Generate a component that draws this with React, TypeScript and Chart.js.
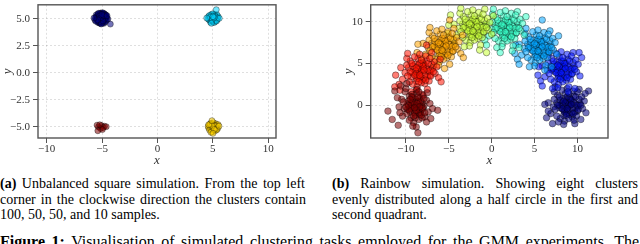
import { useEffect, useRef } from "react";
import { Chart, registerables } from "chart.js";
Chart.register(...registerables);

// ---------- tick values / labels ----------
const squareXTicks = [-10, -5, 0, 5, 10];
const squareXLabels = ["\u221210", "\u22125", "0", "5", "10"];
const squareYTicks = [-5, -2.5, 0, 2.5, 5];
const squareYLabels = ["\u22125.0", "\u22122.5", "0.0", "2.5", "5.0"];
const rainbowXTicks = [-10, -5, 0, 5, 10];
const rainbowXLabels = ["\u221210", "\u22125", "0", "5", "10"];
const rainbowYTicks = [0, 5, 10];
const rainbowYLabels = ["0", "5", "10"];

// ---------- (a) unbalanced square ----------
const squareTopLeft: [number, number][] = [
  [-5.03,5.07],[-4.87,4.83],[-5.25,5.17],[-4.82,5.29],[-5.15,4.9],[-5.35,4.96],[-4.93,5.43],[-5.1,4.66],[-4.69,5.03],[-5.43,5.25],
  [-5.2,5.38],[-4.99,4.97],[-4.78,4.78],[-5.31,4.73],[-5.06,5.22],[-4.89,5.13],[-5.5,4.93],[-4.62,5.2],[-5.13,5.53],[-5.22,4.59],
  [-4.83,4.57],[-5.38,5.43],[-4.94,5.31],[-5.04,4.82],[-5.27,5.01],[-4.73,5.38],[-5.17,4.79],[-4.57,4.9],[-5.59,5.11],[-5.08,5.15],
  [-4.9,4.71],[-5.32,5.27],[-4.79,5.1],[-5.01,5.48],[-5.18,4.94],[-4.96,4.89],[-5.41,4.8],[-4.66,5.25],[-5.11,4.55],[-4.86,5.2],
  [-5.28,5.34],[-5.07,4.99],[-4.75,4.93],[-5.46,5.03],[-4.97,5.1],[-5.21,5.46],[-4.85,5.5],[-5.14,4.71],[-4.61,5.08],[-5.36,4.64],
  [-5.0,4.86],[-4.92,5.04],[-5.24,5.13],[-5.53,5.35],[-4.72,4.85],[-5.06,5.35],[-4.8,5.17],[-5.29,4.86],[-4.93,4.61],[-5.17,5.28],
  [-5.42,4.99],[-4.87,5.38],[-5.1,5.0],[-4.68,4.72],[-5.34,5.14],[-4.99,5.18],[-5.15,4.75],[-4.78,5.43],[-5.63,4.86],[-5.03,4.93],
  [-4.96,5.56],[-5.25,4.83],[-4.82,4.99],[-5.13,5.41],[-5.48,5.18],[-4.65,5.35],[-5.2,5.06],[-4.9,5.25],[-5.08,4.76],[-5.38,5.08],
  [-4.76,5.07],[-5.01,5.27],[-5.28,4.69],[-4.86,4.9],[-5.18,5.2],[-5.55,4.76],[-4.94,5.01],[-5.07,4.51],[-4.71,5.14],[-5.32,5.5],
  [-4.47,4.97],[-5.22,5.24],[-4.92,4.8],[-5.11,5.1],[-4.83,5.27],[-5.39,4.89],[-5.0,5.39],[-4.55,5.28],[-5.73,5.07],[-4.25,4.5]
];
const squareTopRight: [number, number][] = [
  [5.02,5.08],[4.81,4.92],[5.21,5.15],[4.95,5.32],[5.14,4.84],[4.72,5.12],[5.35,5.03],[5.08,4.71],[4.88,5.22],[5.27,5.27],
  [4.99,4.96],[5.16,5.41],[4.67,4.89],[5.41,4.92],[4.91,5.05],[5.09,5.19],[4.79,4.68],[5.3,5.14],[5.04,4.87],[4.85,5.38],
  [5.19,4.97],[4.62,5.21],[5.47,5.2],[4.96,4.78],[5.12,5.06],[4.75,5.01],[5.23,4.75],[4.93,5.14],[5.37,5.36],[5.05,5.29],
  [4.83,4.82],[5.15,4.93],[4.58,4.98],[5.29,4.88],[4.98,5.45],[5.11,4.64],[4.69,5.29],[5.42,5.09],[4.89,4.97],[5.2,5.23],
  [5.06,5.02],[4.77,5.16],[5.33,4.79],[4.94,4.88],[5.58,5.04],[4.86,4.58],[5.13,5.12],[4.45,5.06],[5.01,5.19],[5.31,5.84]
];
const squareBottomRight: [number, number][] = [
  [5.03,-4.97],[4.86,-5.12],[5.19,-4.86],[4.92,-4.78],[5.14,-5.21],[4.74,-5.02],[5.31,-5.08],[5.07,-5.33],[4.89,-4.93],[5.25,-4.72],
  [4.97,-5.19],[5.12,-4.91],[4.69,-4.87],[5.38,-4.96],[4.94,-5.41],[5.06,-5.04],[4.81,-5.27],[5.27,-5.24],[5.0,-4.84],[4.84,-4.67],
  [5.17,-5.1],[4.63,-5.13],[5.44,-5.17],[4.95,-5.02],[5.1,-4.79],[4.77,-4.94],[5.22,-5.36],[4.91,-5.23],[5.35,-4.85],[5.04,-4.63],
  [4.8,-5.07],[5.16,-5.01],[4.58,-4.98],[5.29,-5.12],[4.99,-5.48],[5.09,-4.89],[4.71,-5.31],[5.47,-4.81],[4.87,-4.99],[5.21,-4.93],
  [5.05,-5.15],[4.75,-4.76],[5.34,-5.3],[4.93,-4.9],[5.55,-4.95],[4.83,-5.52],[5.13,-5.26],[4.62,-4.82],[5.01,-5.62],[4.92,-4.45]
];
const squareBottomLeft: [number, number][] = [
  [-5.05,-4.9],[-5.32,-5.02],[-4.78,-4.96],[-5.14,-5.18],[-4.9,-5.08],[-5.45,-4.86],[-4.62,-5.0],[-5.21,-4.82],[-4.97,-5.27],[-5.38,-5.38]
];
const squareColors = ["0,0,128", "0,212,255", "255,212,0", "128,0,0"];

// ---------- (b) rainbow ----------
const rainbowDarkRed: [number, number][] = [
  [-9.1,-0.3],[-8.6,0.4],[-9.5,-0.8],[-8.2,-0.6],[-9.8,0.2],[-8.9,-1.2],[-8.4,0.9],[-9.3,0.6],[-10.2,-0.4],[-7.9,-0.1],
  [-8.7,-0.5],[-9.6,1.1],[-8.1,0.3],[-9.0,0.1],[-10.5,0.7],[-8.5,-1.7],[-7.6,0.6],[-9.4,-1.5],[-8.8,1.4],[-9.9,-1.0],
  [-8.3,-0.9],[-9.2,-0.1],[-10.8,-0.2],[-7.4,-0.8],[-8.0,1.2],[-9.7,0.5],[-8.6,-0.2],[-9.1,-2.1],[-10.1,1.6],[-7.8,-1.4],
  [-8.9,0.7],[-9.4,0.2],[-8.4,-1.1],[-10.4,-1.3],[-7.2,0.2],[-9.0,-0.7],[-8.7,1.9],[-9.8,-0.5],[-8.2,0.0],[-11.0,0.9],
  [-7.6,-2.0],[-9.3,1.3],[-8.5,0.5],[-9.6,-1.8],[-10.7,-0.9],[-6.9,-0.4],[-8.1,-1.5],[-9.2,0.9],[-8.8,-2.6],[-10.0,2.0],
  [-7.5,1.5],[-9.5,-0.2],[-11.6,-1.7],[-8.0,-0.3],[-12.1,-0.7],[-6.3,-0.6],[-8.6,-3.3],[-10.9,-2.4],[-7.1,-1.6],[-9.9,2.6],
  [-11.3,1.7],[-10.6,2.3],
  [-8.8,-0.1],[-9.2,0.3],[-8.5,-0.9],[-9.4,-0.4],[-8.3,0.5],[-9.0,-0.9],[-8.7,0.2],[-9.6,-0.6],[-8.1,-0.4],[-9.3,1.0],
  [-8.9,-1.5],[-8.4,-0.2],[-9.7,0.0],[-8.6,1.0],[-9.1,-1.3],[-7.9,0.8],[-10.0,-0.2],[-8.2,-1.2],[-9.5,0.7],[-8.8,-0.6],
  [-9.2,-2.5],[-7.8,-0.9],[-10.3,0.4],[-8.5,1.6],[-9.0,-0.3]
];
const rainbowRed: [number, number][] = [
  [-8.2,4.1],[-7.7,4.6],[-8.7,3.5],[-7.9,3.2],[-8.5,4.8],[-7.4,4.0],[-9.1,4.3],[-8.0,5.1],[-8.8,2.9],[-7.2,3.6],
  [-8.4,3.8],[-9.4,3.4],[-7.6,5.3],[-8.9,4.9],[-7.8,2.6],[-9.7,4.5],[-8.1,3.0],[-6.9,4.4],[-8.6,5.6],[-9.2,2.5],
  [-7.5,3.4],[-8.3,4.5],[-10.1,3.9],[-7.0,4.9],[-8.9,3.7],[-7.3,2.9],[-9.5,5.3],[-8.0,4.4],[-6.6,3.8],[-8.7,2.2],
  [-9.9,4.8],[-7.7,5.9],[-8.5,3.2],[-10.4,3.1],[-7.1,4.2],[-9.0,5.8],[-8.2,2.7],[-6.7,5.2],[-9.6,2.8],[-8.4,6.1],
  [-7.5,1.9],[-10.6,4.5],[-6.4,4.6],[-9.3,3.9],[-7.9,4.8],[-10.8,2.5],[-8.8,1.8],[-6.2,3.3],[-9.9,5.6],[-11.2,3.6],
  [-7.0,6.3],[-8.6,4.0],[-9.4,1.6],[-10.7,1.8],[-6.0,5.5],[-9.8,6.2],[-7.6,7.2],[-11.3,2.2],[-8.1,1.3],[-5.9,2.8],
  [-8.1,3.9],[-8.6,4.4],[-7.8,3.6],[-8.9,4.1],[-7.6,4.4],[-8.3,3.4],[-8.0,4.7],[-8.7,3.2],[-7.3,4.1],[-9.2,4.7],
  [-8.4,5.0],[-7.7,3.0],[-9.0,3.6],[-7.9,4.2],[-8.5,2.8],[-7.4,5.0],[-9.5,4.0],[-8.2,5.4],[-7.1,3.5],[-8.8,4.5],
  [-9.8,3.5],[-7.2,5.6],[-8.4,3.6],[-9.3,5.0],[-6.8,4.0]
];
const rainbowOrange: [number, number][] = [
  [-5.6,7.0],[-5.1,7.5],[-6.1,6.5],[-5.3,6.2],[-5.9,7.7],[-4.8,6.8],[-6.4,7.3],[-5.5,8.0],[-6.2,5.9],[-4.6,6.4],
  [-5.8,6.7],[-6.7,6.8],[-5.0,8.2],[-6.3,7.9],[-5.2,5.7],[-7.0,7.4],[-5.5,6.0],[-4.3,7.3],[-6.0,8.5],[-6.6,5.5],
  [-4.9,6.3],[-5.7,7.4],[-7.4,6.9],[-4.4,7.8],[-6.3,6.6],[-4.7,5.8],[-6.9,8.3],[-5.4,7.2],[-4.0,6.7],[-6.1,5.2],
  [-7.3,7.8],[-5.1,8.8],[-5.9,6.1],[-7.7,6.1],[-4.5,7.1],[-6.4,8.9],[-5.6,5.5],[-4.1,8.1],[-7.0,5.8],[-5.8,9.1],
  [-4.9,4.9],[-8.0,7.4],[-3.8,7.6],[-6.7,7.1],[-5.3,7.7],[-8.2,5.6],[-6.2,4.8],[-3.6,6.2],[-7.3,8.7],[-8.6,7.3],
  [-4.4,9.2],[-6.0,7.4],[-6.8,4.7],[-8.0,5.0],[-3.4,8.4],[-7.2,9.3],[-4.9,10.2],[-8.7,6.3],[-5.5,4.4],[-3.3,5.7],
  [-5.5,6.9],[-6.0,7.3],[-5.2,6.6],[-6.3,7.0],[-5.0,7.3],[-5.7,6.4],[-5.4,7.7],[-6.1,6.2],[-4.7,7.0],[-6.6,7.6],
  [-5.8,8.0],[-5.1,6.0],[-6.4,6.6],[-5.3,7.1],[-5.9,5.8],[-4.8,8.0],[-6.9,7.0],[-5.6,8.4],[-4.5,6.5],[-6.2,7.5],
  [-7.2,6.5],[-4.6,8.6],[-5.8,6.6],[-6.7,8.0],[-4.2,7.0]
];
const rainbowLime: [number, number][] = [
  [-2.0,9.3],[-1.5,9.8],[-2.5,8.8],[-1.7,8.5],[-2.3,10.0],[-1.2,9.1],[-2.8,9.6],[-1.9,10.3],[-2.6,8.2],[-1.0,8.7],
  [-2.2,9.0],[-3.1,9.1],[-1.4,10.5],[-2.7,10.2],[-1.6,8.0],[-3.4,9.7],[-1.9,8.3],[-0.7,9.6],[-2.4,10.8],[-3.0,7.8],
  [-1.3,8.6],[-2.1,9.7],[-3.8,9.2],[-0.8,10.1],[-2.7,8.9],[-1.1,8.1],[-3.3,10.6],[-1.8,9.5],[-0.4,9.0],[-2.5,7.5],
  [-3.7,10.1],[-1.5,11.1],[-2.3,8.4],[-4.1,8.4],[-0.9,9.4],[-2.8,11.2],[-2.0,7.8],[-0.5,10.4],[-3.4,8.1],[-2.2,11.4],
  [-1.3,7.2],[-4.4,9.7],[-0.2,9.9],[-3.1,9.4],[-1.7,10.0],[-4.6,7.9],[-2.6,7.1],[0.0,8.5],[-3.7,11.0],[-5.0,9.6],
  [-0.8,11.5],[-2.4,9.7],[-3.2,7.0],[-4.4,7.3],[0.2,10.7],[-3.6,11.6],[-1.4,6.6],[-5.1,8.6],[-0.6,6.3],[-4.8,10.8],
  [-1.9,9.2],[-2.4,9.6],[-1.6,8.9],[-2.7,9.3],[-1.4,9.6],[-2.1,8.7],[-1.8,10.0],[-2.5,8.5],[-1.1,9.3],[-3.0,9.9],
  [-2.2,10.3],[-1.5,8.3],[-2.8,8.9],[-1.7,9.4],[-2.3,8.1],[-1.2,10.3],[-3.3,9.3],[-2.0,10.7],[-0.9,8.8],[-2.6,9.8],
  [-3.6,8.8],[-1.0,10.9],[-2.2,8.9],[-3.1,10.3],[-0.6,9.3]
];
const rainbowMint: [number, number][] = [
  [1.8,9.2],[2.3,9.7],[1.3,8.7],[2.1,8.4],[1.5,9.9],[2.6,9.0],[1.0,9.5],[1.9,10.2],[1.2,8.1],[2.8,8.6],
  [1.6,8.9],[0.7,9.0],[2.4,10.4],[1.1,10.1],[2.2,7.9],[0.4,9.6],[1.9,8.2],[3.1,9.5],[1.4,10.7],[0.8,7.7],
  [2.5,8.5],[1.7,9.6],[0.0,9.1],[3.0,10.0],[1.1,8.8],[2.7,8.0],[0.5,10.5],[2.0,9.4],[3.4,8.9],[1.3,7.4],
  [0.1,10.0],[2.3,11.0],[1.5,8.3],[-0.3,8.3],[2.9,9.3],[1.0,11.1],[1.8,7.7],[3.3,10.3],[0.4,8.0],[1.6,11.3],
  [2.5,7.1],[-0.6,9.6],[3.6,9.8],[0.7,9.3],[2.1,9.9],[-0.8,7.8],[1.2,7.0],[3.8,8.4],[0.1,10.9],[-1.0,9.5],
  [3.0,11.2],[1.4,9.6],[0.6,6.9],[-0.6,7.2],[4.0,10.6],[0.2,11.5],[2.4,6.5],[-1.1,8.5],[3.2,6.9],[1.0,6.3],
  [1.9,9.1],[1.4,9.5],[2.2,8.8],[1.1,9.2],[2.4,9.5],[1.7,8.6],[2.0,9.9],[1.3,8.4],[2.7,9.2],[0.8,9.8],
  [1.6,10.2],[2.3,8.2],[1.0,8.8],[2.1,9.3],[1.5,8.0],[2.6,10.2],[0.5,9.2],[1.8,10.6],[2.9,8.7],[1.2,9.7],
  [0.2,8.7],[2.8,10.8],[1.6,8.8],[0.7,10.2],[3.2,9.2]
];
const rainbowSky: [number, number][] = [
  [5.6,6.9],[6.1,7.4],[5.1,6.4],[5.9,6.1],[5.3,7.6],[6.4,6.7],[4.8,7.2],[5.7,7.9],[5.0,5.8],[6.6,6.3],
  [5.4,6.6],[4.5,6.7],[6.2,8.1],[4.9,7.8],[6.0,5.6],[4.2,7.3],[5.7,5.9],[6.9,7.2],[5.2,8.4],[4.6,5.4],
  [6.3,6.2],[5.5,7.3],[3.8,6.8],[6.8,7.7],[4.9,6.5],[6.5,5.7],[4.3,8.2],[5.8,7.1],[7.2,6.6],[5.1,5.1],
  [3.9,7.7],[6.1,8.7],[5.3,6.0],[3.5,6.0],[6.7,7.0],[4.8,8.8],[5.6,5.4],[7.1,8.0],[4.2,5.7],[5.4,9.0],
  [6.3,4.8],[3.2,7.3],[7.4,7.5],[4.5,7.0],[5.9,7.6],[3.0,5.5],[5.0,4.7],[7.6,6.1],[3.9,8.6],[2.8,7.2],
  [6.8,8.9],[5.2,7.3],[4.4,4.6],[3.2,4.9],[7.8,8.3],[4.0,9.2],[6.2,4.2],[2.7,6.2],[7.0,4.6],[5.9,10.2],
  [5.7,6.8],[5.2,7.2],[6.0,6.5],[4.9,6.9],[6.2,7.2],[5.5,6.3],[5.8,7.6],[5.1,6.1],[6.5,6.9],[4.6,7.5],
  [5.4,7.9],[6.1,5.9],[4.8,6.5],[5.9,7.0],[5.3,5.7],[6.4,7.9],[4.3,6.9],[5.6,8.3],[6.7,6.4],[5.0,7.4],
  [4.0,6.4],[6.6,8.5],[5.4,6.5],[4.5,7.9],[7.0,6.9]
];
const rainbowBlue: [number, number][] = [
  [8.3,4.3],[8.8,4.8],[7.8,3.8],[8.6,3.5],[8.0,5.0],[9.1,4.1],[7.5,4.6],[8.4,5.3],[7.7,3.2],[9.3,3.7],
  [8.1,4.0],[7.2,4.1],[8.9,5.5],[7.6,5.2],[8.7,3.0],[6.9,4.7],[8.4,3.3],[9.6,4.6],[7.9,5.8],[7.3,2.8],
  [9.0,3.6],[8.2,4.7],[6.5,4.2],[9.5,5.1],[7.6,3.9],[9.2,3.1],[7.0,5.6],[8.5,4.5],[9.9,4.0],[7.8,2.5],
  [6.6,5.1],[8.8,6.1],[8.0,3.4],[6.2,3.4],[9.4,4.4],[7.5,6.2],[8.3,2.8],[9.8,5.4],[6.9,3.1],[8.1,6.4],
  [9.0,2.2],[5.9,4.7],[10.1,4.9],[7.2,4.4],[8.6,5.0],[5.7,2.9],[7.7,2.1],[10.3,3.5],[6.6,6.0],[5.5,4.6],
  [9.5,6.3],[7.9,4.7],[7.1,2.0],[5.9,2.3],[10.5,5.7],[6.7,6.6],[8.9,1.6],[5.4,3.6],[9.7,2.0],[10.2,6.3],
  [8.4,4.2],[7.9,4.6],[8.7,3.9],[7.6,4.3],[8.9,4.6],[8.2,3.7],[8.5,5.0],[7.8,3.5],[9.2,4.3],[7.3,4.9],
  [8.1,5.3],[8.8,3.3],[7.5,3.9],[8.6,4.4],[8.0,3.1],[9.1,5.3],[7.0,4.3],[8.3,5.7],[9.4,3.8],[7.7,4.8],
  [6.7,3.8],[9.3,5.9],[8.1,3.9],[7.2,5.3],[9.7,4.3]
];
const rainbowNavy: [number, number][] = [
  [9.0,-0.1],[9.5,0.4],[8.5,-0.6],[9.3,-0.9],[8.7,0.6],[9.8,-0.3],[8.2,0.2],[9.1,0.9],[8.4,-1.2],[10.0,-0.7],
  [8.8,-0.4],[7.9,-0.3],[9.6,1.1],[8.3,0.8],[9.4,-1.4],[7.6,0.3],[9.1,-1.1],[10.3,0.2],[8.6,1.4],[8.0,-1.6],
  [9.7,-0.8],[8.9,0.3],[7.2,-0.2],[10.2,0.7],[8.3,-0.5],[9.9,-1.3],[7.7,1.2],[9.2,0.1],[10.6,-0.4],[8.5,-1.9],
  [7.3,0.7],[9.5,1.7],[8.7,-1.0],[6.9,-1.0],[10.1,0.0],[8.2,1.8],[9.0,-1.6],[10.5,1.0],[7.6,-1.3],[8.8,2.0],
  [9.7,-2.2],[6.6,0.3],[10.8,0.5],[7.9,0.0],[9.3,0.6],[6.4,-1.5],[8.4,-2.3],[11.0,-0.9],[7.3,1.6],[6.2,0.1],
  [10.2,1.9],[8.6,0.3],[7.8,-2.0],[6.6,-0.7],[11.3,1.7],[7.4,2.2],[9.6,-1.8],[7.1,-2.2],[10.4,-1.7],[10.9,1.4],
  [9.1,-0.1],[8.6,0.3],[9.4,-0.4],[8.3,0.0],[9.6,0.3],[8.9,-0.6],[9.2,0.7],[8.5,-0.8],[9.9,0.0],[8.0,0.6],
  [8.8,1.0],[9.5,-1.0],[8.2,-0.4],[9.3,0.1],[8.7,-1.2],[9.8,1.0],[7.7,0.0],[9.0,1.4],[10.1,-0.5],[8.4,0.5],
  [7.4,-0.5],[10.0,1.6],[8.8,-0.4],[7.9,1.0],[10.4,0.0]
];
const rainbowColors = ["128,0,0", "255,18,0", "255,164,0", "201,255,55", "55,255,201", "0,164,255", "0,18,255", "0,0,128"];

const SERIF = "'Liberation Serif', 'DejaVu Serif', serif";

const framePlugin = {
  id: "frame",
  afterDraw(chart: any) {
    const { ctx, chartArea } = chart;
    const { left, top, right, bottom } = chartArea;
    ctx.save();
    ctx.strokeStyle = "#555";
    ctx.lineWidth = 1.4;
    ctx.strokeRect(left, top, right - left, bottom - top);
    ctx.restore();
  },
};

type Cfg = {
  groups: [number, number][][];
  colors: string[];
  radius: number;
  xMin: number; xMax: number; yMin: number; yMax: number;
  xTicks: number[]; xLabels: string[]; yTicks: number[]; yLabels: string[];
  padLeft: number; yWidth: number; padRight: number; padTop: number; xHeight: number;
};

function buildOptions(c: Cfg) {
  const axisCommon = (ticks: number[], labels: string[]) => ({
    type: "linear" as const,
    afterBuildTicks: (s: any) => { s.ticks = ticks.map((v) => ({ value: v })); },
    ticks: {
      callback: (v: any) => labels[ticks.indexOf(v)] ?? "",
      font: { family: SERIF, size: 11 },
      color: "#333",
      autoSkip: false,
      maxRotation: 0,
    },
    grid: {
      color: "rgba(0,0,0,0.16)",
      lineWidth: 0.8,
      drawTicks: true,
      tickLength: 5,
      tickColor: "#555",
      tickWidth: 1,
      tickBorderDash: [],
    },
    border: { display: false, dash: [2, 2] },
  });
  const x: any = axisCommon(c.xTicks, c.xLabels);
  x.min = c.xMin; x.max = c.xMax;
  x.ticks.padding = 0;
  x.title = { display: true, text: "x", font: { family: SERIF, style: "italic", size: 13 }, color: "#333", padding: 0 };
  x.afterFit = (s: any) => { s.height = c.xHeight; s.paddingLeft = 0; s.paddingRight = 0; };
  const y: any = axisCommon(c.yTicks, c.yLabels);
  y.min = c.yMin; y.max = c.yMax;
  y.ticks.padding = 3;
  y.title = { display: true, text: "y", font: { family: SERIF, style: "italic", size: 13 }, color: "#333", padding: 0 };
  y.afterFit = (s: any) => { s.width = c.yWidth; s.paddingTop = 0; s.paddingBottom = 0; };
  return {
    responsive: false,
    animation: false as const,
    devicePixelRatio: 1,
    layout: { padding: { left: c.padLeft, right: c.padRight, top: c.padTop, bottom: 0 } },
    plugins: { legend: { display: false }, tooltip: { enabled: false } },
    events: [],
    scales: { x, y },
  };
}

function Scatter({ cfg, width, height, left }: { cfg: Cfg; width: number; height: number; left: number }) {
  const ref = useRef<HTMLCanvasElement | null>(null);
  useEffect(() => {
    if (!ref.current) return;
    const datasets = cfg.groups.map((g, i) => ({
      data: g.map(([x, y]) => ({ x, y })),
      backgroundColor: `rgba(${cfg.colors[i]},0.55)`,
      borderColor: "rgba(0,0,0,0.45)",
      borderWidth: 0.8,
      pointRadius: cfg.radius,
      showLine: false,
    }));
    const chart = new Chart(ref.current, {
      type: "scatter",
      data: { datasets },
      options: buildOptions(cfg) as any,
      plugins: [framePlugin],
    });
    return () => chart.destroy();
  }, []);
  return (
    <canvas
      ref={ref}
      width={width}
      height={height}
      style={{ position: "absolute", left, top: 0, width, height }}
    />
  );
}

const squareCfg: Cfg = {
  groups: [squareTopLeft, squareTopRight, squareBottomRight, squareBottomLeft],
  colors: squareColors,
  radius: 3,
  xMin: -10.78, xMax: 10.7, yMin: -6.05, yMax: 6.29,
  xTicks: squareXTicks, xLabels: squareXLabels, yTicks: squareYTicks, yLabels: squareYLabels,
  padLeft: 0, yWidth: 38, padRight: 24, padTop: 1, xHeight: 30,
};

const rainbowCfg: Cfg = {
  groups: [rainbowDarkRed, rainbowRed, rainbowOrange, rainbowLime, rainbowMint, rainbowSky, rainbowBlue, rainbowNavy],
  colors: rainbowColors,
  radius: 3.3,
  xMin: -14.11, xMax: 13.57, yMin: -3.92, yMax: 12.02,
  xTicks: rainbowXTicks, xLabels: rainbowXLabels, yTicks: rainbowYTicks, yLabels: rainbowYLabels,
  padLeft: 20.5, yWidth: 30.2, padRight: 32, padTop: 1, xHeight: 30,
};

const lineStyle = (left: number, top: number, width: number, justify: boolean, size = 14, lh = 16): React.CSSProperties => ({
  position: "absolute",
  left,
  top,
  width,
  fontFamily: SERIF,
  fontSize: size,
  lineHeight: `${lh}px`,
  color: "#000",
  whiteSpace: "nowrap",
  textAlign: justify ? "justify" : "left",
  textAlignLast: justify ? "justify" : "left",
});

export default function App() {
  useEffect(() => {
    document.body.style.margin = "0";
  }, []);
  const L1 = 176.3, LS = 15.25;
  return (
    <div style={{ position: "relative", width: 640, height: 244, overflow: "hidden", background: "#fff", fontFamily: SERIF }}>
      <Scatter cfg={squareCfg} width={300} height={168} left={0} />
      <Scatter cfg={rainbowCfg} width={320} height={168} left={320} />
      <div style={lineStyle(0, L1, 305, true)}><b>(a)</b> Unbalanced square simulation. From the top left</div>
      <div style={lineStyle(0, L1 + LS, 306, true)}>corner in the clockwise direction the clusters contain</div>
      <div style={lineStyle(0, L1 + 2 * LS, 306, false)}>100, 50, 50, and 10 samples.</div>
      <div style={lineStyle(332, L1, 306, true)}><b>(b)</b> Rainbow simulation. Showing eight clusters</div>
      <div style={lineStyle(332, L1 + LS, 306, true)}>evenly distributed along a half circle in the first and</div>
      <div style={lineStyle(332, L1 + 2 * LS, 306, false)}>second quadrant.</div>
      <div style={lineStyle(0, 232.9, 639, true, 16, 18)}><b>Figure 1:</b> Visualisation of simulated clustering tasks employed for the GMM experiments. The</div>
    </div>
  );
}
